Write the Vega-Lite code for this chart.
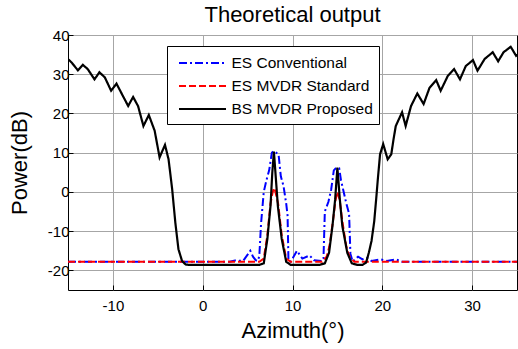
{
  "$schema": "https://vega.github.io/schema/vega-lite/v6.json",
  "autosize": "none",
  "width": 449,
  "height": 255,
  "padding": {"left": 68, "top": 35, "right": 1, "bottom": 59},
  "background": "white",
  "title": {"text": "Theoretical output", "fontSize": 22, "font": "Liberation Sans", "fontWeight": "normal", "color": "black", "anchor": "middle", "frame": "group", "offset": 1},
  "config": {
    "view": {"stroke": "black", "strokeWidth": 1},
    "font": "Liberation Sans",
    "axis": {"gridColor": "#a6a6a6", "gridWidth": 1, "gridOpacity": 1, "domain": false, "tickColor": "black", "tickSize": -5, "labelColor": "black", "labelFontSize": 15, "labelFont": "Liberation Sans", "titleFont": "Liberation Sans", "titleFontSize": 22, "titleFontWeight": "normal", "titleColor": "black", "labelExpr": "datum.value + ''"}
  },
  "data": {"values": [
    {"x": -15.2, "y": 34.3, "s": "BS MVDR Proposed"},
    {"x": -14.6, "y": 33.0, "s": "BS MVDR Proposed"},
    {"x": -13.9, "y": 31.0, "s": "BS MVDR Proposed"},
    {"x": -13.35, "y": 32.4, "s": "BS MVDR Proposed"},
    {"x": -12.8, "y": 31.3, "s": "BS MVDR Proposed"},
    {"x": -12.05, "y": 28.7, "s": "BS MVDR Proposed"},
    {"x": -11.5, "y": 30.5, "s": "BS MVDR Proposed"},
    {"x": -10.9, "y": 29.2, "s": "BS MVDR Proposed"},
    {"x": -10.2, "y": 25.8, "s": "BS MVDR Proposed"},
    {"x": -9.6, "y": 27.6, "s": "BS MVDR Proposed"},
    {"x": -9.1, "y": 25.4, "s": "BS MVDR Proposed"},
    {"x": -8.3, "y": 21.9, "s": "BS MVDR Proposed"},
    {"x": -7.75, "y": 24.2, "s": "BS MVDR Proposed"},
    {"x": -7.2, "y": 21.9, "s": "BS MVDR Proposed"},
    {"x": -6.6, "y": 16.8, "s": "BS MVDR Proposed"},
    {"x": -6.0, "y": 19.6, "s": "BS MVDR Proposed"},
    {"x": -5.35, "y": 15.6, "s": "BS MVDR Proposed"},
    {"x": -4.8, "y": 8.8, "s": "BS MVDR Proposed"},
    {"x": -4.2, "y": 12.0, "s": "BS MVDR Proposed"},
    {"x": -3.8, "y": 8.3, "s": "BS MVDR Proposed"},
    {"x": -3.4, "y": 0.7, "s": "BS MVDR Proposed"},
    {"x": -3.05, "y": -7.8, "s": "BS MVDR Proposed"},
    {"x": -2.7, "y": -14.6, "s": "BS MVDR Proposed"},
    {"x": -2.3, "y": -17.6, "s": "BS MVDR Proposed"},
    {"x": -1.9, "y": -18.5, "s": "BS MVDR Proposed"},
    {"x": -1.5, "y": -18.6, "s": "BS MVDR Proposed"},
    {"x": 6.3, "y": -18.6, "s": "BS MVDR Proposed"},
    {"x": 6.8, "y": -18.2, "s": "BS MVDR Proposed"},
    {"x": 7.2, "y": -12.0, "s": "BS MVDR Proposed"},
    {"x": 7.55, "y": -3.6, "s": "BS MVDR Proposed"},
    {"x": 7.75, "y": 4.9, "s": "BS MVDR Proposed"},
    {"x": 7.93, "y": 10.3, "s": "BS MVDR Proposed"},
    {"x": 8.1, "y": 4.9, "s": "BS MVDR Proposed"},
    {"x": 8.37, "y": -3.6, "s": "BS MVDR Proposed"},
    {"x": 8.8, "y": -12.0, "s": "BS MVDR Proposed"},
    {"x": 9.3, "y": -17.8, "s": "BS MVDR Proposed"},
    {"x": 9.8, "y": -18.6, "s": "BS MVDR Proposed"},
    {"x": 13.0, "y": -18.6, "s": "BS MVDR Proposed"},
    {"x": 13.6, "y": -18.2, "s": "BS MVDR Proposed"},
    {"x": 14.07, "y": -15.5, "s": "BS MVDR Proposed"},
    {"x": 14.45, "y": -8.7, "s": "BS MVDR Proposed"},
    {"x": 14.75, "y": -1.9, "s": "BS MVDR Proposed"},
    {"x": 15.0, "y": 6.2, "s": "BS MVDR Proposed"},
    {"x": 15.27, "y": -1.9, "s": "BS MVDR Proposed"},
    {"x": 15.55, "y": -8.7, "s": "BS MVDR Proposed"},
    {"x": 16.1, "y": -15.5, "s": "BS MVDR Proposed"},
    {"x": 16.6, "y": -18.2, "s": "BS MVDR Proposed"},
    {"x": 17.2, "y": -18.6, "s": "BS MVDR Proposed"},
    {"x": 17.8, "y": -18.6, "s": "BS MVDR Proposed"},
    {"x": 18.2, "y": -18.0, "s": "BS MVDR Proposed"},
    {"x": 18.5, "y": -15.5, "s": "BS MVDR Proposed"},
    {"x": 18.8, "y": -12.5, "s": "BS MVDR Proposed"},
    {"x": 19.1, "y": -7.5, "s": "BS MVDR Proposed"},
    {"x": 19.35, "y": -1.0, "s": "BS MVDR Proposed"},
    {"x": 19.5, "y": 3.2, "s": "BS MVDR Proposed"},
    {"x": 19.75, "y": 9.6, "s": "BS MVDR Proposed"},
    {"x": 20.1, "y": 12.2, "s": "BS MVDR Proposed"},
    {"x": 20.6, "y": 8.3, "s": "BS MVDR Proposed"},
    {"x": 21.0, "y": 9.6, "s": "BS MVDR Proposed"},
    {"x": 21.25, "y": 13.4, "s": "BS MVDR Proposed"},
    {"x": 21.5, "y": 16.8, "s": "BS MVDR Proposed"},
    {"x": 22.2, "y": 20.3, "s": "BS MVDR Proposed"},
    {"x": 22.6, "y": 16.8, "s": "BS MVDR Proposed"},
    {"x": 23.2, "y": 21.9, "s": "BS MVDR Proposed"},
    {"x": 23.9, "y": 25.1, "s": "BS MVDR Proposed"},
    {"x": 24.6, "y": 22.4, "s": "BS MVDR Proposed"},
    {"x": 25.25, "y": 26.5, "s": "BS MVDR Proposed"},
    {"x": 26.0, "y": 28.5, "s": "BS MVDR Proposed"},
    {"x": 26.5, "y": 25.8, "s": "BS MVDR Proposed"},
    {"x": 27.3, "y": 29.6, "s": "BS MVDR Proposed"},
    {"x": 28.0, "y": 31.3, "s": "BS MVDR Proposed"},
    {"x": 28.65, "y": 28.7, "s": "BS MVDR Proposed"},
    {"x": 29.3, "y": 32.1, "s": "BS MVDR Proposed"},
    {"x": 30.1, "y": 33.6, "s": "BS MVDR Proposed"},
    {"x": 30.6, "y": 30.9, "s": "BS MVDR Proposed"},
    {"x": 31.4, "y": 33.9, "s": "BS MVDR Proposed"},
    {"x": 32.3, "y": 35.6, "s": "BS MVDR Proposed"},
    {"x": 32.9, "y": 33.3, "s": "BS MVDR Proposed"},
    {"x": 33.5, "y": 35.6, "s": "BS MVDR Proposed"},
    {"x": 34.3, "y": 37.0, "s": "BS MVDR Proposed"},
    {"x": 34.9, "y": 34.7, "s": "BS MVDR Proposed"},
    {"x": 35.2, "y": 35.2, "s": "BS MVDR Proposed"},

    {"x": -15, "y": -17.8, "s": "ES MVDR Standard"},
    {"x": 6.3, "y": -17.8, "s": "ES MVDR Standard"},
    {"x": 6.8, "y": -17.0, "s": "ES MVDR Standard"},
    {"x": 7.2, "y": -11.0, "s": "ES MVDR Standard"},
    {"x": 7.55, "y": -3.0, "s": "ES MVDR Standard"},
    {"x": 7.8, "y": 0.0, "s": "ES MVDR Standard"},
    {"x": 7.95, "y": 1.0, "s": "ES MVDR Standard"},
    {"x": 8.1, "y": 0.0, "s": "ES MVDR Standard"},
    {"x": 8.4, "y": -3.0, "s": "ES MVDR Standard"},
    {"x": 8.8, "y": -11.0, "s": "ES MVDR Standard"},
    {"x": 9.3, "y": -17.0, "s": "ES MVDR Standard"},
    {"x": 9.8, "y": -17.8, "s": "ES MVDR Standard"},
    {"x": 13.3, "y": -17.8, "s": "ES MVDR Standard"},
    {"x": 13.8, "y": -16.5, "s": "ES MVDR Standard"},
    {"x": 14.1, "y": -14.0, "s": "ES MVDR Standard"},
    {"x": 14.5, "y": -7.5, "s": "ES MVDR Standard"},
    {"x": 14.8, "y": -2.0, "s": "ES MVDR Standard"},
    {"x": 15.0, "y": 0.0, "s": "ES MVDR Standard"},
    {"x": 15.25, "y": -2.0, "s": "ES MVDR Standard"},
    {"x": 15.55, "y": -7.5, "s": "ES MVDR Standard"},
    {"x": 16.0, "y": -14.0, "s": "ES MVDR Standard"},
    {"x": 16.4, "y": -16.8, "s": "ES MVDR Standard"},
    {"x": 16.9, "y": -17.8, "s": "ES MVDR Standard"},
    {"x": 35, "y": -17.8, "s": "ES MVDR Standard"},

    {"x": -15, "y": -17.8, "s": "ES Conventional"},
    {"x": 3.0, "y": -17.8, "s": "ES Conventional"},
    {"x": 3.6, "y": -17.5, "s": "ES Conventional"},
    {"x": 4.5, "y": -17.6, "s": "ES Conventional"},
    {"x": 5.0, "y": -16.0, "s": "ES Conventional"},
    {"x": 5.3, "y": -15.0, "s": "ES Conventional"},
    {"x": 5.6, "y": -16.5, "s": "ES Conventional"},
    {"x": 5.9, "y": -17.4, "s": "ES Conventional"},
    {"x": 6.1, "y": -17.6, "s": "ES Conventional"},
    {"x": 6.3, "y": -16.5, "s": "ES Conventional"},
    {"x": 6.5, "y": -8.0, "s": "ES Conventional"},
    {"x": 6.8, "y": 0.0, "s": "ES Conventional"},
    {"x": 7.1, "y": 3.0, "s": "ES Conventional"},
    {"x": 7.4, "y": 5.5, "s": "ES Conventional"},
    {"x": 7.7, "y": 10.0, "s": "ES Conventional"},
    {"x": 7.9, "y": 10.4, "s": "ES Conventional"},
    {"x": 8.2, "y": 10.0, "s": "ES Conventional"},
    {"x": 8.45, "y": 9.5, "s": "ES Conventional"},
    {"x": 8.7, "y": 4.0, "s": "ES Conventional"},
    {"x": 9.0, "y": 1.5, "s": "ES Conventional"},
    {"x": 9.3, "y": -3.0, "s": "ES Conventional"},
    {"x": 9.45, "y": -6.0, "s": "ES Conventional"},
    {"x": 9.55, "y": -17.5, "s": "ES Conventional"},
    {"x": 9.8, "y": -17.8, "s": "ES Conventional"},
    {"x": 10.5, "y": -15.0, "s": "ES Conventional"},
    {"x": 11.1, "y": -17.0, "s": "ES Conventional"},
    {"x": 11.9, "y": -16.2, "s": "ES Conventional"},
    {"x": 12.4, "y": -17.4, "s": "ES Conventional"},
    {"x": 13.3, "y": -17.6, "s": "ES Conventional"},
    {"x": 13.45, "y": -17.0, "s": "ES Conventional"},
    {"x": 13.6, "y": -5.0, "s": "ES Conventional"},
    {"x": 14.0, "y": -2.5, "s": "ES Conventional"},
    {"x": 14.3, "y": 0.5, "s": "ES Conventional"},
    {"x": 14.6, "y": 5.5, "s": "ES Conventional"},
    {"x": 14.9, "y": 6.2, "s": "ES Conventional"},
    {"x": 15.2, "y": 6.0, "s": "ES Conventional"},
    {"x": 15.4, "y": 3.0, "s": "ES Conventional"},
    {"x": 15.7, "y": 0.0, "s": "ES Conventional"},
    {"x": 16.0, "y": -3.0, "s": "ES Conventional"},
    {"x": 16.3, "y": -5.5, "s": "ES Conventional"},
    {"x": 16.45, "y": -15.8, "s": "ES Conventional"},
    {"x": 16.7, "y": -17.8, "s": "ES Conventional"},
    {"x": 17.3, "y": -16.5, "s": "ES Conventional"},
    {"x": 17.8, "y": -17.2, "s": "ES Conventional"},
    {"x": 18.3, "y": -16.8, "s": "ES Conventional"},
    {"x": 18.8, "y": -17.6, "s": "ES Conventional"},
    {"x": 19.8, "y": -17.2, "s": "ES Conventional"},
    {"x": 20.5, "y": -17.6, "s": "ES Conventional"},
    {"x": 21.5, "y": -17.2, "s": "ES Conventional"},
    {"x": 22.2, "y": -17.8, "s": "ES Conventional"},
    {"x": 35, "y": -17.8, "s": "ES Conventional"}
  ]},
  "encoding": {
    "x": {"field": "x", "type": "quantitative", "scale": {"domain": [-15, 35], "nice": false, "zero": false},
      "axis": {"values": [-10, 0, 10, 20, 30], "title": "Azimuth(°)", "labelPadding": 13, "titleBaseline": "alphabetic", "titleY": 47, "titleX": 224.5}},
    "y": {"field": "y", "type": "quantitative", "scale": {"domain": [-25, 40], "nice": false, "zero": false},
      "axis": {"values": [-20, -10, 0, 10, 20, 30, 40], "title": "Power(dB)", "labelPadding": 4, "titleX": -37, "titleY": 127.5}},
    "color": {"field": "s", "type": "nominal",
      "scale": {"domain": ["ES Conventional", "ES MVDR Standard", "BS MVDR Proposed"], "range": ["#0000ff", "#ff0000", "#000000"]},
      "legend": {"title": null, "orient": "none", "legendX": 99, "legendY": 11, "fillColor": "white", "strokeColor": "black", "padding": 6,
        "symbolType": "M-2.35,0H2.35", "symbolSize": 400, "symbolStrokeWidth": 2, "symbolOffset": 18.5, "labelOffset": 18,
        "labelFontSize": 15.5, "labelColor": "black", "labelFont": "Liberation Sans", "rowPadding": 3, "labelLimit": 300}},
    "strokeDash": {"field": "s", "type": "nominal",
      "scale": {"domain": ["ES Conventional", "ES MVDR Standard", "BS MVDR Proposed"], "range": [[8, 3, 2, 3], [7, 3], [1, 0]]},
      "legend": {"title": null, "orient": "none", "legendX": 99, "legendY": 11, "fillColor": "white", "strokeColor": "black", "padding": 6,
        "symbolType": "M-2.35,0H2.35", "symbolSize": 400, "symbolStrokeWidth": 2, "symbolOffset": 18.5, "labelOffset": 18,
        "labelFontSize": 15.5, "labelColor": "black", "labelFont": "Liberation Sans", "rowPadding": 3, "labelLimit": 300}}
  },
  "layer": [
    {"transform": [{"filter": "datum.s === 'ES Conventional'"}], "mark": {"type": "line", "strokeWidth": 2, "clip": true}},
    {"transform": [{"filter": "datum.s === 'ES MVDR Standard'"}], "mark": {"type": "line", "strokeWidth": 2, "clip": true}},
    {"transform": [{"filter": "datum.s === 'BS MVDR Proposed'"}], "mark": {"type": "line", "strokeWidth": 2.2, "clip": true}}
  ]
}
